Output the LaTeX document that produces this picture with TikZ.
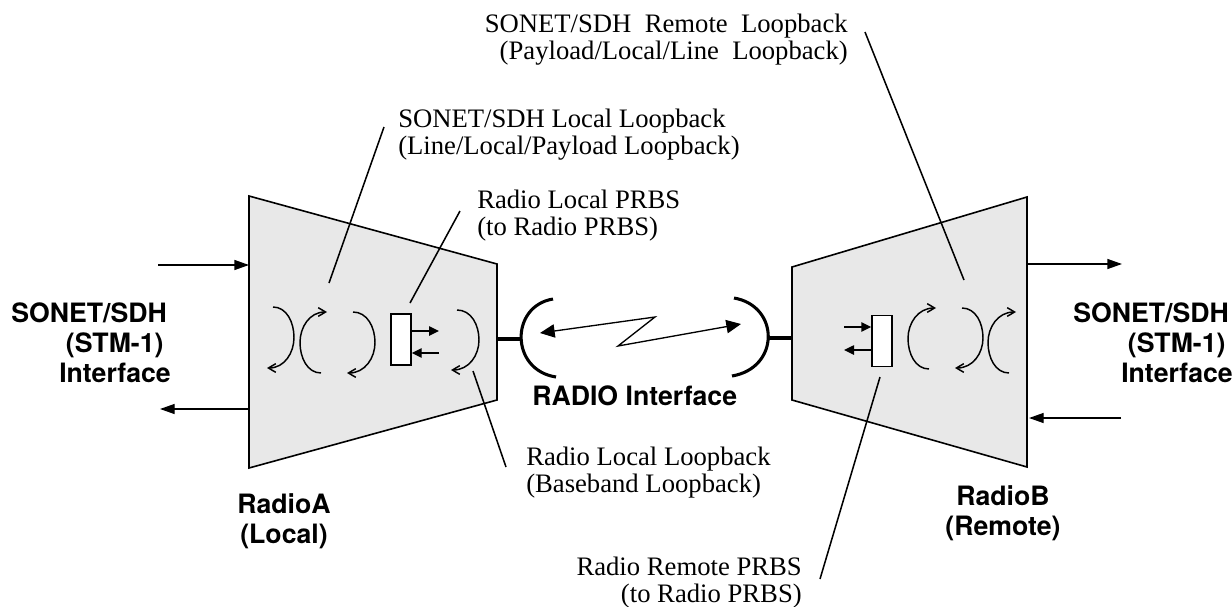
\documentclass[tikz,border=0pt]{standalone}
\usepackage{fontspec}
\setmainfont{Liberation Serif}
\setsansfont{TeX Gyre Heros}
\usetikzlibrary{arrows.meta,calc}
\definecolor{radiogray}{HTML}{E8E8E8}
\tikzset{
  radiobox/.style={draw, fill=radiogray, line width=1.2pt, line join=miter},
  prbsbox/.style={draw, fill=white, line width=1.1pt, minimum width=15pt, minimum height=38pt, inner sep=0pt},
  note/.style={font=\fontsize{20}{20}\selectfont, align=left, anchor=north west, inner sep=0pt},
  title/.style={font=\sffamily\bfseries\fontsize{20}{22.5}\selectfont, align=left, anchor=north west, inner sep=0pt},
  leader/.style={line width=1.15pt},
  flow/.style={-{Triangle[length=11pt,width=7.5pt]}, line width=1pt},
  prbsarrow/.style={-{Triangle[length=7.5pt,width=7pt]}, line width=1.1pt},
  loopback/.style={-{Straight Barb[length=5.5pt,width=6.5pt]}, line width=1.1pt},
  dish/.style={line width=2.3pt},
  stub/.style={line width=2.5pt}
}
\begin{document}
\begin{tikzpicture}[x=0.75pt,y=-0.75pt]
  \useasboundingbox (0,0) rectangle (1232,607);

  % radio bodies
  \draw[radiobox] (249,196) -- (497,264) -- (497,400) -- (249,468) -- cycle;
  \draw[radiobox] (792,267) -- (1027,197) -- (1027,467) -- (792,400) -- cycle;
  \coordinate (ainner) at (497,339);
  \coordinate (binner) at (792,338);

  % prbs blocks
  \node[prbsbox] (prbsa) at (401,339.5) {};
  \node[prbsbox] (prbsb) at (882,341) {};
  \coordinate (atx) at (439,331);
  \coordinate (arx) at (439,353);
  \coordinate (btx) at (844,327);
  \coordinate (brx) at (844,350);
  \draw[prbsarrow] (prbsa.east |- atx) -- (atx);
  \draw[prbsarrow] (arx) -- (prbsa.east |- arx);
  \draw[prbsarrow] (btx) -- (prbsb.west |- btx);
  \draw[prbsarrow] (prbsb.west |- brx) -- (brx);

  % loopback hooks
  \foreach \n/\sx/\sy/\bx/\ex/\ey in {
    a/273/307/294/267/368, b/321/373/300/327/312, c/353/312/375/347/373, d/457/310/479/451/370,
    e/929/369/908/936/308, f/962/308/983/955/368, g/1009/373/988/1016/312}
  {
    \coordinate (\n from) at (\sx,\sy);
    \coordinate (\n to) at (\ex,\ey);
    \draw[loopback] (\n from) .. controls ({\sx+.65*(\bx-\sx)},\sy) and (\bx,{\sy+.25*(\ey-\sy)}) .. (\bx,{(\sy+\ey)/2})
      .. controls (\bx,{\sy+.75*(\ey-\sy)}) and ({\ex+.65*(\bx-\ex)},\ey) .. (\n to);
  }

  % radio link
  \coordinate (dishl) at (521,339);
  \coordinate (dishr) at (768,338);
  \draw[dish] (553,299) .. controls (510,306) and (510,370) .. (556,377);
  \draw[dish] (734,298) .. controls (780,306) and (780,368) .. (732,376);
  \draw[stub] (ainner) -- (dishl);
  \draw[stub] (dishr) -- (binner);
  \coordinate (linkl) at (540,333);
  \coordinate (linkm) at (655,317);
  \coordinate (linkn) at (618,346);
  \coordinate (linkr) at (741,324);
  \draw[{Triangle[length=11pt,width=10pt]}-{Triangle[length=11pt,width=10pt]}, line width=1pt]
    (linkl) -- (linkm) -- (linkn) -- (linkr);

  % outer interface arrows
  \coordinate (ainp) at (158,265);
  \coordinate (aout) at (160,409);
  \coordinate (bout) at (1122,264);
  \coordinate (binp) at (1121,418);
  \draw[flow] (ainp) -- (ainp -| 249,0);
  \draw[flow] (aout -| 249,0) -- (aout);
  \draw[flow] (bout -| 1027,0) -- (bout);
  \draw[flow] (binp) -- (binp -| 1029,0);

  % text
  \node[title] (ifa) at (11,302.5) {SONET/SDH\\\hspace*{41pt}(STM-1)\\\hspace*{36pt}Interface};
  \node[title] (ifb) at (1073,302.5) {SONET/SDH\\\hspace*{41pt}(STM-1)\\\hspace*{36pt}Interface};
  \node[title] (ifr) at (532,385.5) {RADIO Interface};
  \node[title, align=center, anchor=north] (namea) at (284,493.5) {RadioA\\(Local)};
  \node[title, align=center, anchor=north] (nameb) at (1003,485.5) {RadioB\\(Remote)};
  \node[note, align=right, anchor=north east] (sdhremote) at (848,14) {SONET/SDH\ \ Remote\ \ Loopback\\(Payload/Local/Line\ \ Loopback)};
  \node[note] (sdhlocal) at (398,109) {SONET/SDH Local Loopback\\(Line/Local/Payload Loopback)};
  \node[note] (prbslocal) at (477,190) {Radio Local PRBS\\(to Radio PRBS)};
  \node[note] (radiolocal) at (526,447) {Radio Local Loopback\\(Baseband Loopback)};
  \node[note, align=right, anchor=north east] (prbsremote) at (802,557) {Radio Remote PRBS\\(to Radio PRBS)};

  % leaders
  \foreach \n/\ax/\ay/\bx/\by in {
    la/384/127/329/283, lb/460/211/410/303, lc/473/371/506/467,
    ld/865/32/964/280, le/880/377/820/579}
  {
    \coordinate (\n from) at (\ax,\ay);
    \coordinate (\n to) at (\bx,\by);
    \draw[leader] (\n from) -- (\n to);
  }
\end{tikzpicture}
\end{document}
